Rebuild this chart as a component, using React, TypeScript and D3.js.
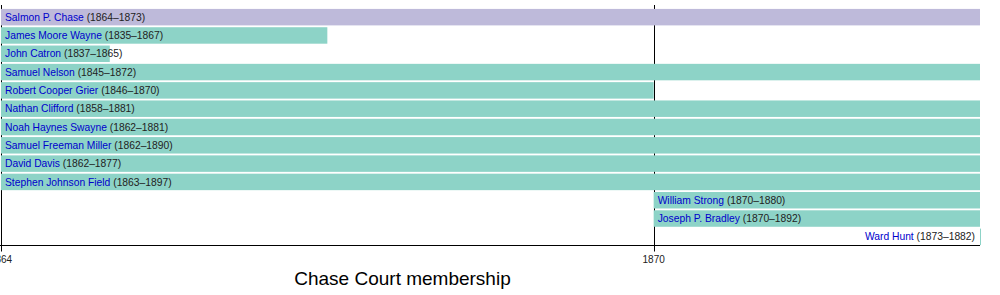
import React from "react";
import * as d3 from "d3";

const justices = [
  "Salmon P. Chase",
  "James Moore Wayne",
  "John Catron",
  "Samuel Nelson",
  "Robert Cooper Grier",
  "Nathan Clifford",
  "Noah Haynes Swayne",
  "Samuel Freeman Miller",
  "David Davis",
  "Stephen Johnson Field",
  "William Strong",
  "Joseph P. Bradley",
  "Ward Hunt",
];
const tenureStart = [1864, 1835, 1837, 1845, 1846, 1858, 1862, 1862, 1862, 1863, 1870, 1870, 1873];
const tenureEnd = [1873, 1867, 1865, 1872, 1870, 1881, 1881, 1890, 1877, 1897, 1880, 1892, 1882];
// bar extents as drawn in the chart (within the court's span)
const barStart = [1864, 1864, 1864, 1864, 1864, 1864, 1864, 1864, 1864, 1864, 1870, 1870, 1873];
const barEnd = [1873, 1867, 1865, 1873, 1870, 1873, 1873, 1873, 1873, 1873, 1873, 1873, 1873];
const isChief = [true, false, false, false, false, false, false, false, false, false, false, false, false];
const courtSpan = [1864, 1873];
const tickYears = [1864, 1870];
const title = "Chase Court membership";

const W = 1000;
const H = 295;
const FONT = "'Liberation Sans', Arial, Helvetica, sans-serif";

export default function App() {
  const x = d3.scaleLinear().domain(courtSpan).range([1, 980]);
  const y = d3
    .scaleBand<number>()
    .domain(d3.range(justices.length))
    .range([8, 246])
    .paddingInner(0.1)
    .paddingOuter(0.05);
  const axisY = 245.5;

  return (
    <svg
      width={W}
      height={H}
      style={{ position: "absolute", left: 0, top: 0, fontFamily: FONT }}
    >
      {tickYears.map((t) => (
        <line
          key={"g" + t}
          x1={Math.round(x(t)) + 0.5}
          x2={Math.round(x(t)) + 0.5}
          y1={5}
          y2={axisY + 6}
          stroke="#000"
          strokeWidth={1}
        />
      ))}
      {justices.map((name, i) => {
        const x0 = x(barStart[i]);
        const x1 = x(barEnd[i]);
        const bw = Math.max(1, x1 - x0);
        const yy = y(i)!;
        const bh = y.bandwidth();
        const rightAlign = x0 + 5 + 120 > W - 10;
        return (
          <g key={name}>
            <rect
              x={x0}
              y={yy}
              width={bw}
              height={bh}
              fill={isChief[i] ? "#bebada" : "#8dd3c7"}
            />
            <text
              x={rightAlign ? x1 - 5 : x0 + 4}
              y={yy + bh / 2}
              dy="0.35em"
              fontSize={10.3}
              textAnchor={rightAlign ? "end" : "start"}
            >
              <tspan fill="#0000cc">{name}</tspan>
              <tspan fill="#222">{` (${tenureStart[i]}–${tenureEnd[i]})`}</tspan>
            </text>
          </g>
        );
      })}
      <line x1={0} x2={x(courtSpan[1])} y1={axisY} y2={axisY} stroke="#000" strokeWidth={1} />
      {tickYears.map((t) => (
        <text
          key={"t" + t}
          x={x(t)}
          y={263}
          fontSize={10}
          textAnchor="middle"
          fill="#222"
        >
          {t}
        </text>
      ))}
      <text x={402.5} y={285} fontSize={19} textAnchor="middle" fill="#000">
        {title}
      </text>
    </svg>
  );
}
